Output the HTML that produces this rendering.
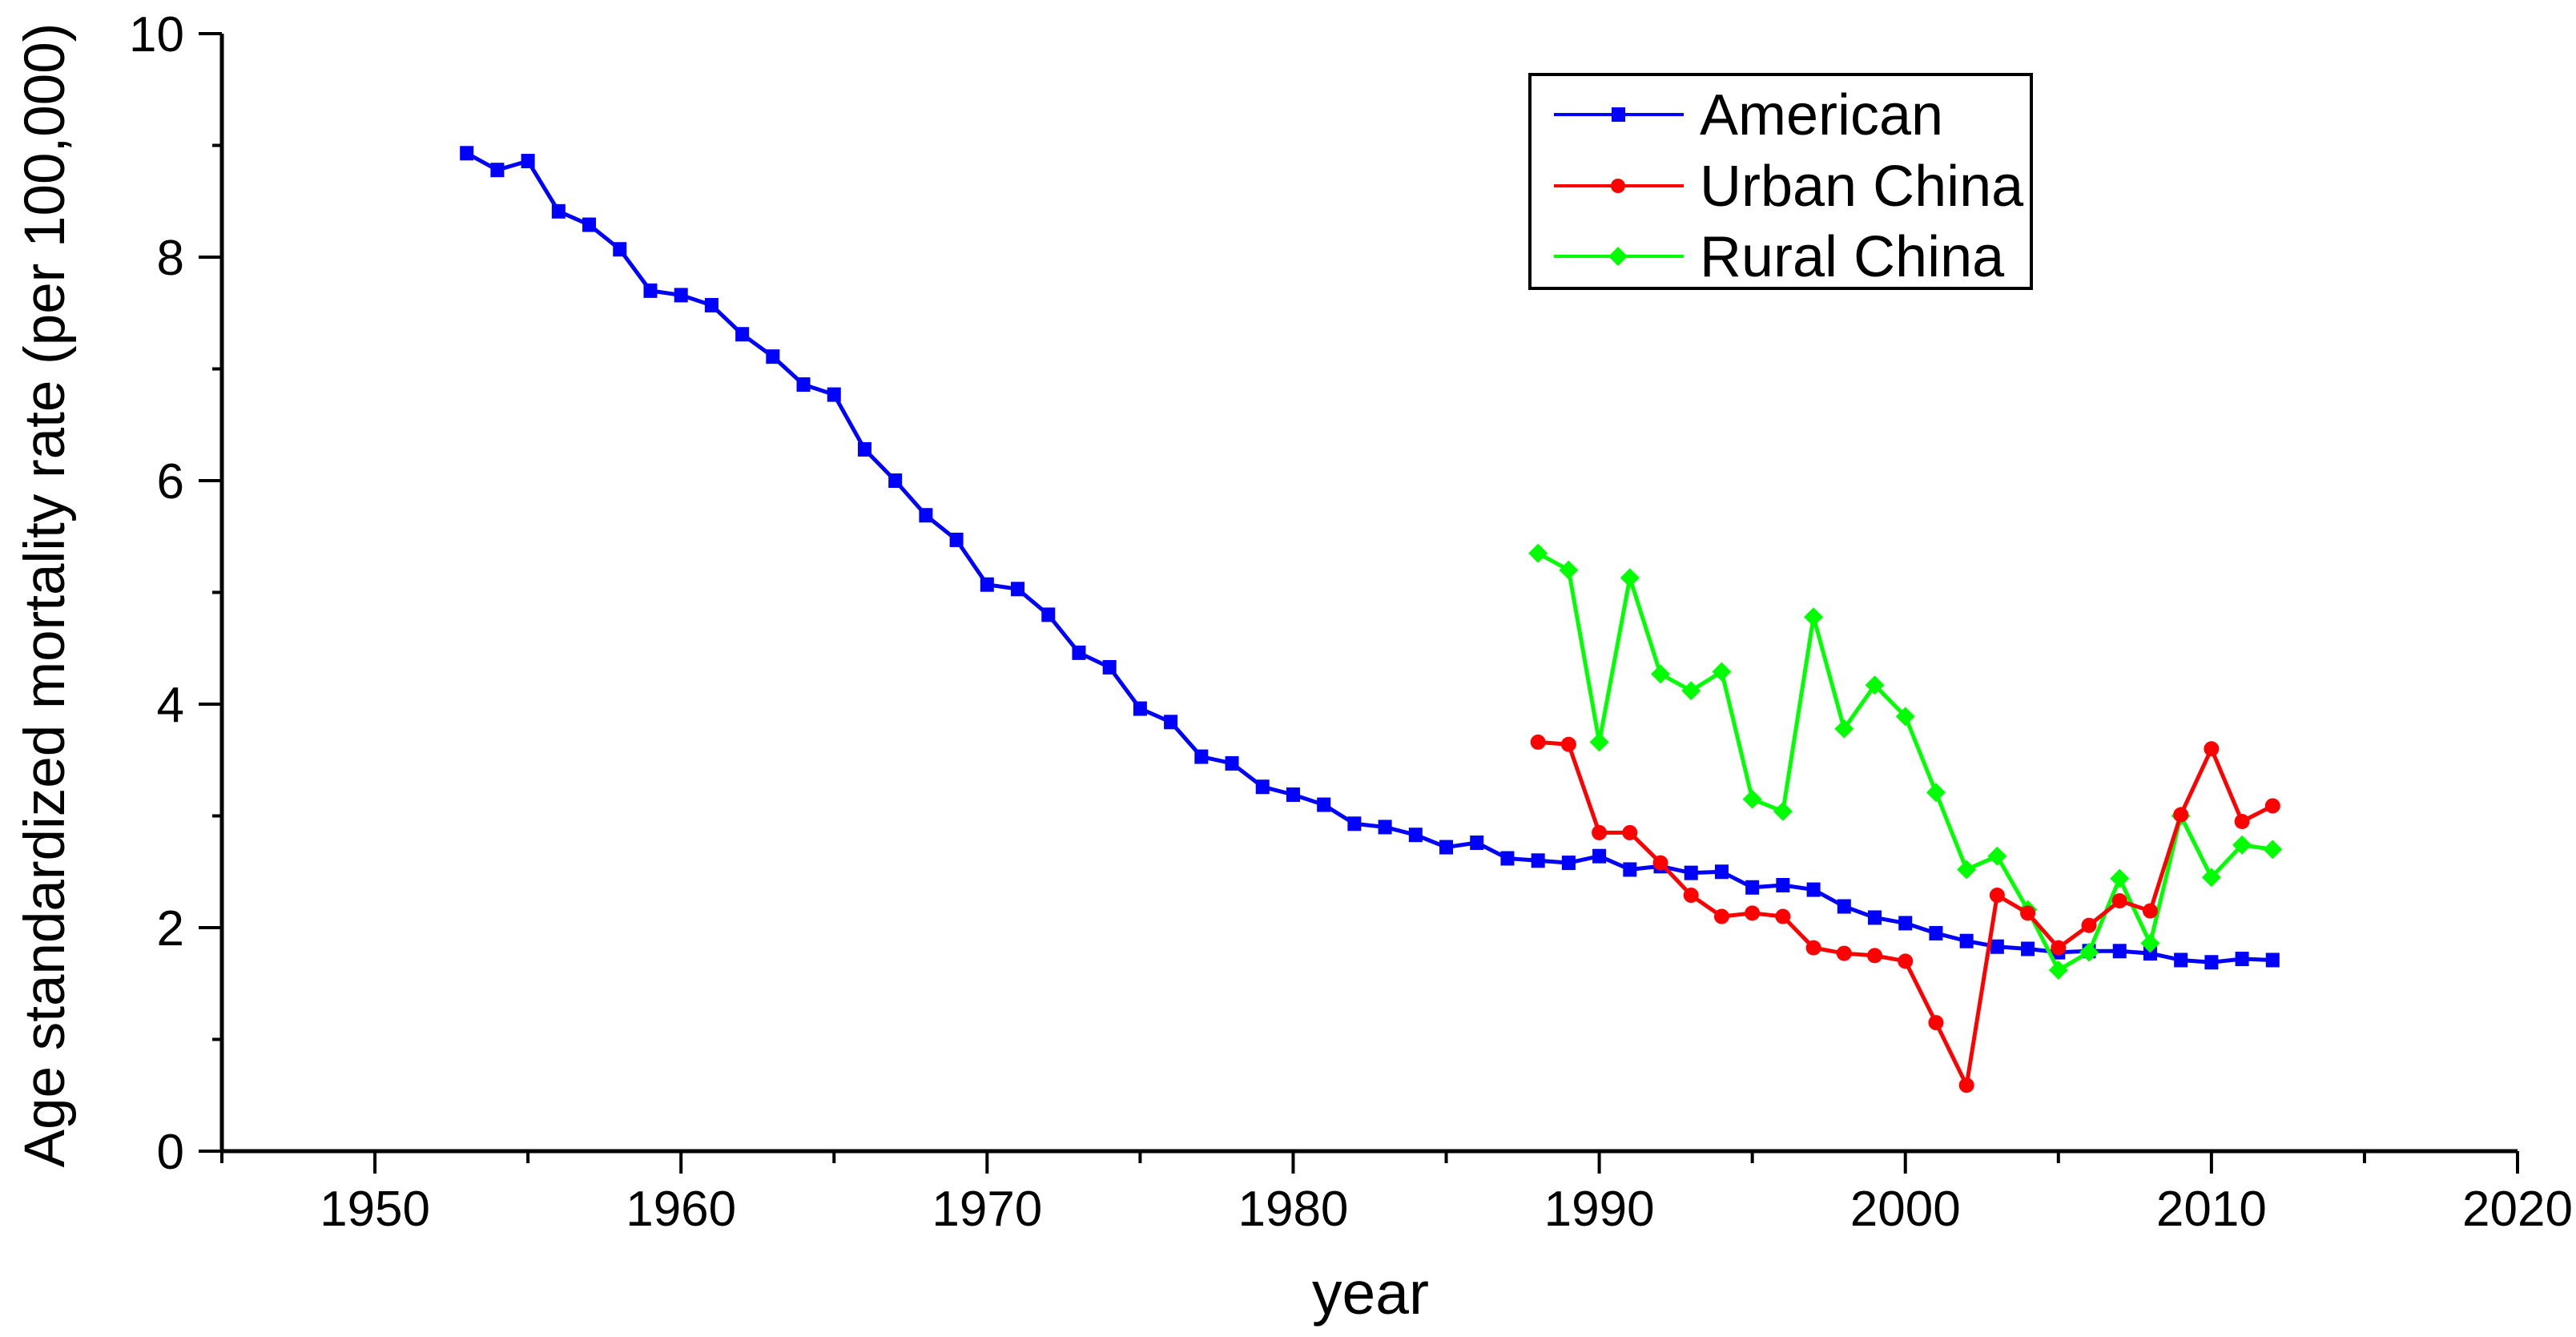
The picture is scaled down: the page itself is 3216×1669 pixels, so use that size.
<!DOCTYPE html>
<html><head><meta charset="utf-8"><style>
html,body{margin:0;padding:0;background:#fff;}
svg{display:block;font-family:"Liberation Sans",Arial,sans-serif;}
</style></head><body>
<svg id="chart" width="3216" height="1669" viewBox="0 0 3216 1669" xmlns="http://www.w3.org/2000/svg">
<g id="axes"></g>
<g id="series"></g>
<text x="1711" y="1640" font-size="75" text-anchor="middle">year</text>
<text transform="translate(80,743) rotate(-90)" font-size="71" text-anchor="middle">Age standardized mortality rate (per 100,000)</text>
<g>
<rect x="1910" y="93" width="626" height="267" fill="#fff" stroke="#000" stroke-width="4"/>
<g>
<line x1="1940" y1="143" x2="2102" y2="143" stroke="#0000ff" stroke-width="4"/>
<rect x="2012" y="134" width="17" height="18" fill="#0000ff"/>
<text x="2122" y="168" font-size="72">American</text></g>
<g>
<line x1="1940" y1="232" x2="2102" y2="232" stroke="#ff0000" stroke-width="4"/>
<circle cx="2020" cy="232" r="9" fill="#ff0000"/>
<text x="2122" y="257" font-size="72">Urban China</text></g>
<g>
<line x1="1940" y1="320" x2="2102" y2="320" stroke="#00ff00" stroke-width="4"/>
<polygon points="2020,308 2032,320 2020,332 2008,320" fill="#00ff00"/>
<text x="2122" y="345" font-size="72">Rural China</text></g>
</g>
</svg>
<script>
const americanYears = [1953,1954,1955,1956,1957,1958,1959,1960,1961,1962,1963,1964,1965,1966,1967,1968,1969,1970,1971,1972,1973,1974,1975,1976,1977,1978,1979,1980,1981,1982,1983,1984,1985,1986,1987,1988,1989,1990,1991,1992,1993,1994,1995,1996,1997,1998,1999,2000,2001,2002,2003,2004,2005,2006,2007,2008,2009,2010,2011,2012];
const americanValues = [8.93,8.78,8.86,8.41,8.29,8.07,7.70,7.66,7.57,7.31,7.11,6.86,6.77,6.28,6.00,5.69,5.47,5.07,5.03,4.80,4.46,4.33,3.96,3.84,3.53,3.47,3.26,3.19,3.10,2.93,2.90,2.83,2.72,2.76,2.62,2.60,2.58,2.64,2.52,2.55,2.49,2.50,2.36,2.38,2.34,2.19,2.09,2.04,1.95,1.88,1.83,1.81,1.78,1.79,1.79,1.77,1.71,1.69,1.72,1.71];
const chinaYears = [1988,1989,1990,1991,1992,1993,1994,1995,1996,1997,1998,1999,2000,2001,2002,2003,2004,2005,2006,2007,2008,2009,2010,2011,2012];
const urbanValues = [3.66,3.64,2.85,2.85,2.58,2.29,2.10,2.13,2.10,1.82,1.77,1.75,1.70,1.15,0.59,2.29,2.13,1.82,2.02,2.24,2.15,3.01,3.60,2.95,3.09];
const ruralValues = [5.35,5.20,3.66,5.13,4.27,4.12,4.29,3.15,3.04,4.78,3.78,4.17,3.89,3.21,2.52,2.64,2.16,1.62,1.78,2.44,1.86,3.00,2.45,2.74,2.70];
const xTickLabels = ["1950","1960","1970","1980","1990","2000","2010","2020"];
const yTickLabels = ["0","2","4","6","8","10"];

const NS="http://www.w3.org/2000/svg";
const X0=1945,X1=2020,PX0=277,PX1=3143;
const Y0=0,Y1=10,PY0=1437,PY1=42;
function sx(v){return PX0+(v-X0)*(PX1-PX0)/(X1-X0);}
function sy(v){return PY0+(v-Y0)*(PY1-PY0)/(Y1-Y0);}
function mk(tag,attrs,parent){const e=document.createElementNS(NS,tag);for(const k in attrs)e.setAttribute(k,attrs[k]);parent.appendChild(e);return e;}
const axes=document.getElementById('axes');
const series=document.getElementById('series');

let e=mk('line',{x1:PX0,y1:PY0,x2:PX1,y2:PY0,stroke:'#000','stroke-width':5},axes);


e=mk('line',{x1:PX0,y1:PY0+2,x2:PX0,y2:PY1,stroke:'#000','stroke-width':5},axes);



for(let y=1945;y<=2020;y+=5){
  const major=(y%10===0);
  e=mk('line',{x1:sx(y),y1:PY0,x2:sx(y),y2:PY0+(major?28:15),stroke:'#000','stroke-width':4},axes);
  
  
}
xTickLabels.forEach(l=>{
  e=mk('text',{x:sx(+l),y:1530,'font-size':62,'text-anchor':'middle'},axes);
  e.textContent=l;
  
  
});
for(let v=0;v<=10;v+=1){
  const major=(v%2===0);
  e=mk('line',{x1:PX0,y1:sy(v),x2:PX0-(major?29:12),y2:sy(v),stroke:'#000','stroke-width':4},axes);
  
  
}
yTickLabels.forEach(l=>{
  e=mk('text',{x:230,y:sy(+l)+22,'font-size':62,'text-anchor':'end'},axes);
  e.textContent=l;
  
  
});

function drawSeries(name,xs,ys,color,shape){
  const g=mk('g',{},series);
  
  
  const pts=xs.map((x,i)=>sx(x)+','+sy(ys[i])).join(' ');
  const pl=mk('polyline',{points:pts,fill:'none',stroke:color,'stroke-width':5,'stroke-linejoin':'round'},g);
  
  
  xs.forEach((x,i)=>{
    const cx=sx(x),cy=sy(ys[i]);let m;
    if(shape==='square')m=mk('rect',{x:cx-8.5,y:cy-9,width:17,height:18,fill:color},g);
    else if(shape==='circle')m=mk('circle',{cx:cx,cy:cy,r:9.5,fill:color},g);
    else m=mk('polygon',{points:`${cx},${cy-12} ${cx+12},${cy} ${cx},${cy+12} ${cx-12},${cy}`,fill:color},g);
    
    
  });
}
drawSeries('american',americanYears,americanValues,'#0000ff','square');
drawSeries('rural-china',chinaYears,ruralValues,'#00ff00','diamond');
drawSeries('urban-china',chinaYears,urbanValues,'#ff0000','circle');
</script>
</body></html>
